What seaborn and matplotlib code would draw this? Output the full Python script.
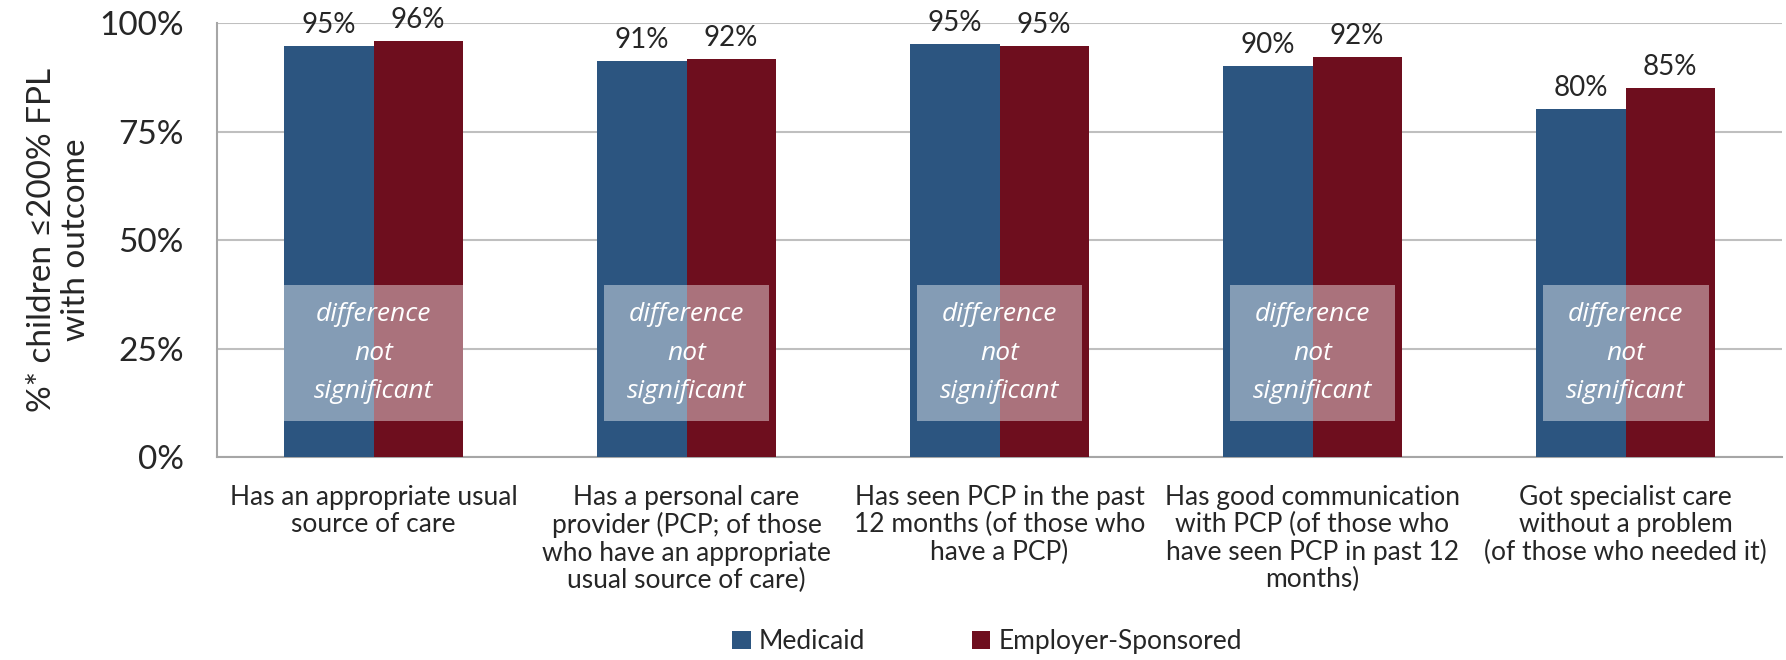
import numpy as np
import pandas as pd
import matplotlib
matplotlib.use("Agg")
import matplotlib.pyplot as plt
from matplotlib.patches import Rectangle
import seaborn as sns

categories = [
    "Has an appropriate usual\nsource of care",
    "Has a personal care\nprovider (PCP; of those\nwho have an appropriate\nusual source of care)",
    "Has seen PCP in the past\n12 months (of those who\nhave a PCP)",
    "Has good communication\nwith PCP (of those who\nhave seen PCP in past 12\nmonths)",
    "Got specialist care\nwithout a problem\n(of those who needed it)",
]
medicaid = [94.7, 91.2, 95.2, 90.1, 80.1]
employer = [95.9, 91.7, 94.7, 92.2, 85.0]
medicaid_labels = ["95%", "91%", "95%", "90%", "80%"]
employer_labels = ["96%", "92%", "95%", "92%", "85%"]
series = ["Medicaid", "Employer-Sponsored"]
yticks = [0, 25, 50, 75, 100]
ytick_labels = ["0%", "25%", "50%", "75%", "100%"]
note_text = "difference\nnot\nsignificant"
note_low, note_high = 8.3, 39.6

colors = ["#2C5580", "#6E0E1E"]

df = pd.DataFrame({
    "cat": categories * 2,
    "series": [series[0]] * 5 + [series[1]] * 5,
    "value": medicaid + employer,
})

sns.set_style("white")
plt.rcParams["font.family"] = ["Lato", "DejaVu Sans"]
text_color = "#262626"

fig = plt.figure(figsize=(17.86, 6.6), dpi=100)
ax = fig.add_axes([0.1215, 0.3076, 0.8763, 0.6574])

sns.barplot(data=df, x="cat", y="value", hue="series", palette=colors,
            width=0.57, saturation=1, ax=ax, legend=False, zorder=3,
            edgecolor="none", linewidth=0)

ax.set_ylim(0, 100)
ax.set_xlim(-0.5, 4.5)
ax.set_yticks(yticks)
ax.set_yticklabels(ytick_labels, fontsize=24, color=text_color)
ax.yaxis.grid(True, color="#BFBFBF", linewidth=1.5, zorder=0)
ax.set_axisbelow(True)

# x ticks: labels at centers, tick marks at boundaries
ax.set_xticks(range(5))
ax.set_xticklabels(categories, fontsize=19, color=text_color, linespacing=1.12)
ax.tick_params(axis="x", length=0, pad=20)
ax.set_xticks(np.arange(-0.5, 5.0, 1.0), minor=True)
ax.tick_params(axis="x", which="minor", length=8, width=1.5, color="#A6A6A6")
ax.tick_params(axis="y", length=10, width=1.5, color="#A6A6A6", pad=14)

for s in ["top", "right"]:
    ax.spines[s].set_visible(False)
for s in ["left", "bottom"]:
    ax.spines[s].set_color("#A6A6A6")
    ax.spines[s].set_linewidth(1.5)

ax.set_xlabel("")
ax.set_ylabel("%* children \u2264200% FPL\nwith outcome", fontsize=24,
              color=text_color, linespacing=1.15, labelpad=6)

# value labels
for cont, labs in zip(ax.containers, [medicaid_labels, employer_labels]):
    ax.bar_label(cont, labels=labs, padding=6, fontsize=20, color=text_color)

# notes boxes
bw = 0.57
for i in range(5):
    inset = 0.0 if i == 0 else 0.02
    ax.add_patch(Rectangle((i - bw / 2 + inset, note_low), bw - 2 * inset,
                           note_high - note_low, facecolor="white", alpha=0.42,
                           edgecolor="none", zorder=4))
    ax.text(i, (note_low + note_high) / 2, note_text, ha="center", va="center",
            fontsize=19, color="white", style="italic",
            family=["Open Sans", "DejaVu Sans"], linespacing=1.72, zorder=5)

# legend
handles = [Rectangle((0, 0), 1, 1, facecolor=c, edgecolor="none") for c in colors]
leg = fig.legend(handles, series, loc="center left",
                 bbox_to_anchor=(0.410, 0.028), ncol=2,
                 frameon=False, fontsize=19, handlelength=0.7, handleheight=0.7,
                 handletextpad=0.3, columnspacing=4.05, borderaxespad=0,
                 borderpad=0)
for t in leg.get_texts():
    t.set_color(text_color)

fig.savefig("out.png", dpi=100)
